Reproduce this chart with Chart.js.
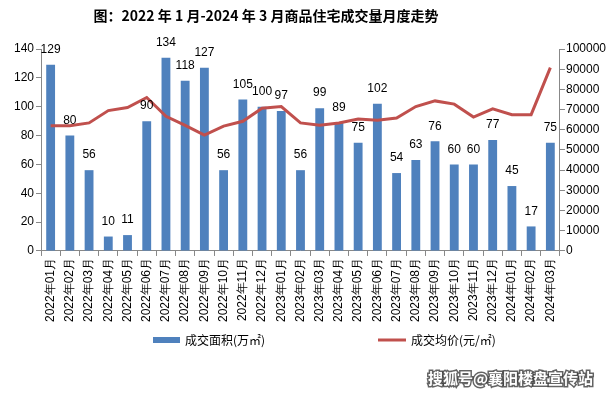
<!DOCTYPE html>
<html>
<head>
<meta charset="utf-8">
<script src="https://cdn.jsdelivr.net/npm/chart.js@4"></script>
<style>
  html, body { margin: 0; padding: 0; background: #fff; }
  #wrap { width: 611px; height: 394px; position: relative; }
</style>
</head>
<body>
<div id="wrap"><canvas id="myChart" width="611" height="394"></canvas></div>
<script>
// months on the x axis
const months = [
  "2022年01月", "2022年02月", "2022年03月", "2022年04月", "2022年05月", "2022年06月",
  "2022年07月", "2022年08月", "2022年09月", "2022年10月", "2022年11月", "2022年12月",
  "2023年01月", "2023年02月", "2023年03月", "2023年04月", "2023年05月", "2023年06月",
  "2023年07月", "2023年08月", "2023年09月", "2023年10月", "2023年11月", "2023年12月",
  "2024年01月", "2024年02月", "2024年03月"
];
// 成交面积 (万㎡)
const areaValues = [129, 80, 56, 10, 11, 90, 134, 118, 127, 56, 105, 100, 97, 56,
  99, 89, 75, 102, 54, 63, 76, 60, 60, 77, 45, 17, 75];
// 成交均价 (元/㎡)
const priceValues = [62000, 62000, 63400, 69500, 71000, 76000, 66700, 62200, 57400,
  61800, 64200, 70700, 71500, 63400, 62300, 63400, 65300, 64700, 65800, 71500,
  74300, 72700, 66300, 70400, 67500, 67500, 90800];

const titleText = "图：2022 年 1 月-2024 年 3 月商品住宅成交量月度走势";
const areaLabel = "成交面积(万㎡)";
const priceLabel = "成交均价(元/㎡)";
const watermark = "搜狐号@襄阳楼盘宣传站";

const barColor = "#4F81BD";
const lineColor = "#C0504D";
const tickFont = { family: "'Liberation Sans', Arial, sans-serif", size: 12 };
const cjk = "'Noto Sans CJK SC', 'Liberation Sans', sans-serif";

// numbers above each bar
const barLabels = {
  id: "barLabels",
  afterDatasetsDraw(chart) {
    const ctx = chart.ctx;
    const meta = chart.getDatasetMeta(1);
    ctx.save();
    ctx.font = "12px " + tickFont.family;
    ctx.fillStyle = "#000";
    ctx.textAlign = "center";
    ctx.textBaseline = "bottom";
    meta.data.forEach((bar, i) => {
      ctx.fillText(String(areaValues[i]), bar.x, bar.y - 9);
    });
    ctx.restore();
  }
};

// title, legend and watermark
const extras = {
  id: "extras",
  afterDraw(chart) {
    const ctx = chart.ctx;
    ctx.save();
    ctx.fillStyle = "#000";
    ctx.font = "bold 14px " + cjk;
    ctx.textAlign = "center";
    ctx.textBaseline = "middle";
    ctx.fillText(titleText, 266, 16);

    ctx.textAlign = "left";
    ctx.font = "12px " + cjk;
    ctx.fillStyle = barColor;
    ctx.fillRect(153, 337, 27, 6);
    ctx.fillStyle = "#000";
    ctx.fillText(areaLabel, 185, 340);

    ctx.strokeStyle = lineColor;
    ctx.lineWidth = 3;
    ctx.beginPath();
    ctx.moveTo(378, 340);
    ctx.lineTo(406, 340);
    ctx.stroke();
    ctx.fillText(priceLabel, 411, 340);

    ctx.font = "bold 15px " + cjk;
    ctx.lineWidth = 3;
    ctx.strokeStyle = "rgba(60,60,60,0.8)";
    ctx.strokeText(watermark, 428, 378);
    ctx.fillStyle = "#fff";
    ctx.fillText(watermark, 428, 378);
    ctx.restore();
  }
};

const ctx = document.getElementById("myChart").getContext("2d");
new Chart(ctx, {
  data: {
    labels: months,
    datasets: [
      {
        type: "line",
        label: priceLabel,
        data: priceValues,
        yAxisID: "y2",
        borderColor: lineColor,
        backgroundColor: lineColor,
        borderWidth: 3,
        pointRadius: 0,
        tension: 0,
        order: 0
      },
      {
        type: "bar",
        label: areaLabel,
        data: areaValues,
        yAxisID: "y",
        backgroundColor: barColor,
        barPercentage: 0.46,
        categoryPercentage: 1,
        order: 1
      }
    ]
  },
  options: {
    responsive: false,
    animation: false,
    layout: { padding: { top: 49, left: 12, right: 4, bottom: 70 } },
    plugins: {
      legend: { display: false },
      title: { display: false },
      tooltip: { enabled: false }
    },
    scales: {
      x: {
        offset: true,
        grid: { display: true, drawOnChartArea: false, offset: true, tickLength: 5, color: "#888" },
        border: { color: "#888" },
        ticks: {
          font: { family: "'Liberation Sans', Arial, sans-serif", size: 12 },
          color: "#000",
          maxRotation: 90,
          minRotation: 90,
          autoSkip: false,
          padding: 2
        }
      },
      y: {
        position: "left",
        min: 0,
        max: 140,
        ticks: { stepSize: 20, font: tickFont, color: "#000", padding: 2 },
        grid: { drawOnChartArea: false, tickLength: 5, color: "#888" },
        border: { color: "#888" }
      },
      y2: {
        position: "right",
        min: 0,
        max: 100000,
        ticks: {
          stepSize: 10000,
          font: tickFont,
          color: "#000",
          padding: 1,
          callback: (v) => String(v)
        },
        grid: { drawOnChartArea: false, tickLength: 5, color: "#888" },
        border: { color: "#888" }
      }
    }
  },
  plugins: [barLabels, extras]
});
</script>
</body>
</html>
